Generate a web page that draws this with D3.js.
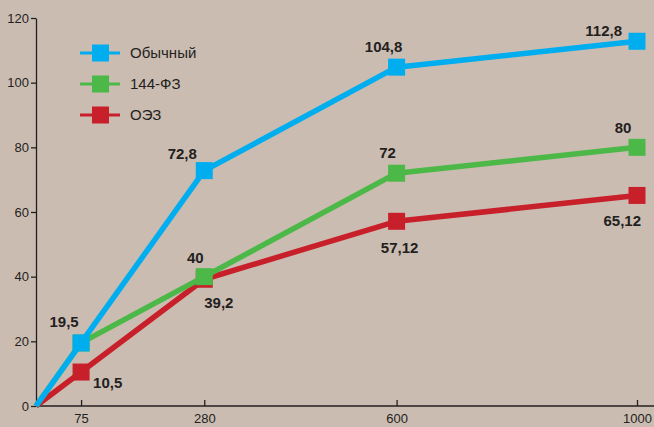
<!DOCTYPE html>
<html>
<head>
<meta charset="utf-8">
<script src="https://cdn.jsdelivr.net/npm/d3@7"></script>
<style>
  body { margin: 0; background: #cbbcb2; }
  svg { display: block; }
  .tick text { font-family: "Liberation Sans", Arial, sans-serif; font-size: 13px; fill: #231f20; }
  .val { font-family: "Liberation Sans", Arial, sans-serif; font-size: 15px; font-weight: bold; fill: #231f20; }
  .leg { font-family: "Liberation Sans", Arial, sans-serif; font-size: 15px; fill: #231f20; }
</style>
</head>
<body>
<div class="chart"></div>
<script>
var svgWidth = 654;
var svgHeight = 427;

var margin = { top: 18, right: 17, bottom: 21, left: 36 };
var width = svgWidth - margin.left - margin.right;
var height = svgHeight - margin.top - margin.bottom;

// data
var xValues = [0, 75, 280, 600, 1000];
var xTicks = [75, 280, 600, 1000];
var yTicks = [0, 20, 40, 60, 80, 100, 120];
var seriesNames = ["Обычный", "144-ФЗ", "ОЭЗ"];
var obychny = [0, 19.5, 72.8, 104.8, 112.8];
var fz144 = [0, 19.5, 40, 72, 80];
var oez = [0, 10.5, 39.2, 57.12, 65.12];
var obychnyLabels = ["", "19,5", "72,8", "104,8", "112,8"];
var fz144Labels = ["", "", "40", "72", "80"];
var oezLabels = ["", "10,5", "39,2", "57,12", "65,12"];

var colors = ["#00aeef", "#4cb848", "#c8202a"];

// label offsets relative to marker [dx, dy, anchor]
var labelPos = [
  [null, [-17, -21, "middle"], [-22, -17, "middle"], [-13, -20, "middle"], [-15, -11, "end"]],
  [null, null, [-9, -19, "middle"], [-9, -20, "middle"], [-14, -20, "middle"]],
  [null, [12, 11, "start"], [0, 23, "start"], [3, 26, "middle"], [4, 25, "end"]]
];

var svg = d3.select(".chart")
  .append("svg")
  .attr("width", svgWidth)
  .attr("height", svgHeight);

svg.append("rect")
  .attr("width", svgWidth)
  .attr("height", svgHeight)
  .attr("fill", "#cbbcb2");

var chartGroup = svg.append("g")
  .attr("transform", `translate(${margin.left}, ${margin.top})`);

var x = d3.scaleLinear().domain([0, 1000]).range([0, 601]);
var y = d3.scaleLinear().domain([0, 120]).range([height, 0]);

// y axis
var yAxis = chartGroup.append("g")
  .call(d3.axisLeft(y).tickValues(yTicks).tickSize(5).tickSizeOuter(0));
yAxis.select(".domain").attr("stroke", "#231f20").attr("stroke-width", 1.3);
yAxis.selectAll(".tick line").attr("stroke", "#231f20").attr("stroke-width", 1.3);
yAxis.selectAll(".tick text").attr("x", -7);

// x axis
var xAxis = chartGroup.append("g")
  .attr("transform", `translate(0, ${height})`)
  .call(d3.axisBottom(x).tickValues(xTicks).tickFormat(d3.format("d"))
    .tickSize(0).tickSizeOuter(0).tickPadding(9));
xAxis.select(".domain").attr("d", `M0,0H${svgWidth}`).attr("stroke", "#231f20").attr("stroke-width", 1.3);
xAxis.selectAll(".tick line").attr("y2", -6).attr("stroke", "#231f20").attr("stroke-width", 1.3);
xAxis.selectAll(".tick text").attr("dy", "0.62em");

var allSeries = [obychny, fz144, oez];
var allLabels = [obychnyLabels, fz144Labels, oezLabels];

var line = d3.line()
  .x((d, i) => x(xValues[i]))
  .y(d => y(d));

// draw back to front: red, green, blue
[2, 1, 0].forEach(function(s) {
  var data = allSeries[s];
  var g = chartGroup.append("g");
  g.append("path")
    .datum(data)
    .attr("d", line)
    .attr("fill", "none")
    .attr("stroke", colors[s])
    .attr("stroke-width", 5.5)
    .attr("stroke-linejoin", "round");
  g.selectAll("rect")
    .data(data.slice(1))
    .enter()
    .append("rect")
    .attr("x", (d, i) => x(xValues[i + 1]) - 8.5)
    .attr("y", d => y(d) - 8.5)
    .attr("width", 17)
    .attr("height", 17)
    .attr("fill", colors[s]);
});

// value labels
[0, 1, 2].forEach(function(s) {
  allLabels[s].forEach(function(t, i) {
    var p = labelPos[s][i];
    if (!t || !p) return;
    chartGroup.append("text")
      .attr("class", "val")
      .attr("x", x(xValues[i]) + p[0])
      .attr("y", y(allSeries[s][i]) + p[1])
      .attr("text-anchor", p[2])
      .attr("dy", "0.35em")
      .text(t);
  });
});

// legend
var legend = svg.append("g").attr("transform", "translate(80, 53)");
seriesNames.forEach(function(name, i) {
  var lg = legend.append("g").attr("transform", `translate(0, ${i * 31})`);
  lg.append("line")
    .attr("x1", 0).attr("x2", 40)
    .attr("stroke", colors[i]).attr("stroke-width", 3);
  lg.append("rect")
    .attr("x", 12).attr("y", -8.5)
    .attr("width", 17).attr("height", 17)
    .attr("fill", colors[i]);
  lg.append("text")
    .attr("class", "leg")
    .attr("x", 50)
    .attr("dy", "0.35em")
    .text(name);
});
</script>
</body>
</html>
